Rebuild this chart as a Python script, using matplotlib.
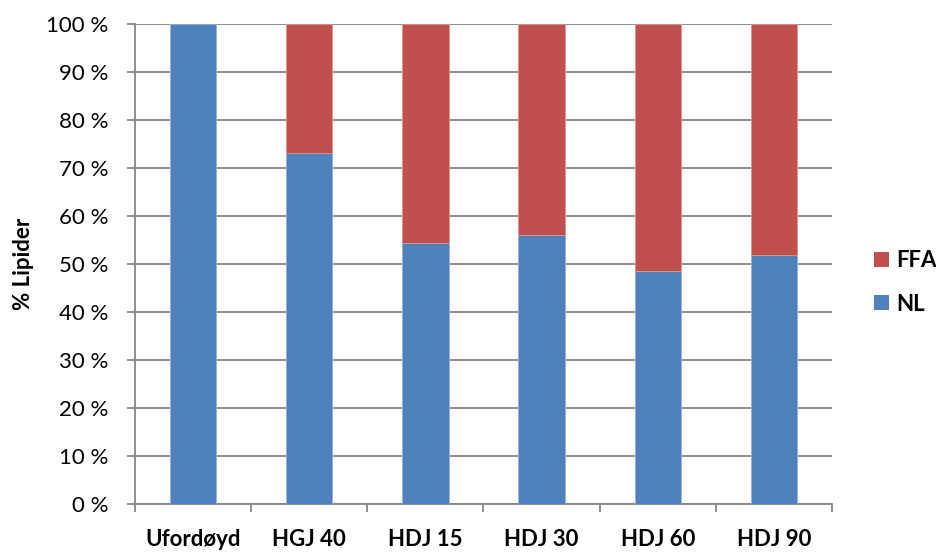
import matplotlib
matplotlib.use('Agg')
import matplotlib.pyplot as plt
from matplotlib.patches import Patch
from matplotlib.ticker import FixedLocator

categories = ['Ufordøyd', 'HGJ 40', 'HDJ 15', 'HDJ 30', 'HDJ 60', 'HDJ 90']
nl = [100.0, 73.1, 54.3, 56.1, 48.5, 51.8]
ffa = [100 - v for v in nl]
yticks = list(range(0, 101, 10))

plt.rcParams['font.family'] = ['Lato', 'DejaVu Sans']

blue = '#4F81BD'
red = '#C0504D'
grid_col = '#868686'
fs = 16

fig = plt.figure(figsize=(9.36, 5.52), dpi=100)
ax = fig.add_axes([135 / 936, 1 - 503.5 / 552, 697 / 936, 479.5 / 552])

x = list(range(len(categories)))
ax.bar(x, nl, width=0.4, color=blue, edgecolor='#95B3D7', linewidth=0.6, zorder=3)
# only stack FFA where there is something to show
ffa_x = [xi for xi, v in zip(x, ffa) if v > 0]
ffa_v = [v for v in ffa if v > 0]
ffa_b = [b for b, v in zip(nl, ffa) if v > 0]
ax.bar(ffa_x, ffa_v, width=0.4, bottom=ffa_b, color=red, edgecolor='#D99694', linewidth=0.6, zorder=3)

ax.set_xlim(-0.5, len(categories) - 0.5)
ax.set_ylim(0, 100)
ax.set_yticks(yticks)
ax.set_yticklabels([f'{t} %' for t in yticks], fontsize=fs)
ax.yaxis.grid(True, color=grid_col, linewidth=1.3, zorder=0)

ax.set_xticks(x)
ax.set_xticklabels(categories, fontsize=fs, fontweight='bold')
ax.xaxis.set_minor_locator(FixedLocator([i - 0.5 for i in range(len(categories) + 1)]))
ax.tick_params(axis='x', which='major', length=0, pad=18)
ax.tick_params(axis='x', which='minor', length=6, width=1.3, color=grid_col, direction='out')
ax.tick_params(axis='y', which='major', length=6, width=1.3, color=grid_col, direction='out', pad=13)

for s in ['top', 'right']:
    ax.spines[s].set_visible(False)
for s in ['left', 'bottom']:
    ax.spines[s].set_color(grid_col)
    ax.spines[s].set_linewidth(1.3)

ax.set_ylabel('% Lipider', fontsize=fs, fontweight='bold', labelpad=9)

handles = [Patch(facecolor=red, edgecolor='none'), Patch(facecolor=blue, edgecolor='none')]
fig.legend(handles, ['FFA', 'NL'], loc='center left', bbox_to_anchor=(874 / 936, 1 - 282.5 / 552),
           frameon=False, borderpad=0, borderaxespad=0, handlelength=0.68, handleheight=0.68,
           handletextpad=0.3, labelspacing=1.0, prop={'size': fs, 'weight': 'bold'})

fig.savefig('out.png', dpi=100)
